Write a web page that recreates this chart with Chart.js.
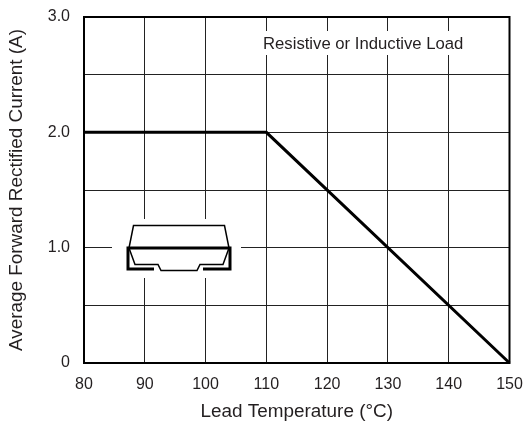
<!DOCTYPE html>
<html>
<head>
<meta charset="utf-8">
<style>
  html, body { margin: 0; padding: 0; background: #fff; }
  canvas { display: block; }
</style>
<script src="https://cdn.jsdelivr.net/npm/chart.js@4/dist/chart.umd.min.js"></script>
</head>
<body>
<canvas id="myChart" width="525" height="421"></canvas>
<script>
var temperature = [80, 110, 150];
var current = [2.0, 2.0, 0];
var yLabels = { 0: '0', 1: '1.0', 2: '2.0', 3: '3.0' };
var note = 'Resistive or Inductive Load';
var xTitle = 'Lead Temperature (°C)';
var yTitle = 'Average Forward Rectified Current (A)';

var ink = '#231f20';
var fontName = '"Liberation Sans", Arial, sans-serif';

// frame, note and the little package drawing on top of the grid
var extras = {
  id: 'extras',
  beforeDatasetsDraw: function(chart) {
    var c = chart.ctx;
    c.save();
    // white patches that cut the grid behind the note and the package
    c.fillStyle = '#fff';
    c.fillRect(262, 31, 204, 24);
    c.fillRect(112, 219, 129, 59);
    c.strokeStyle = '#000';
    c.lineJoin = 'miter';
    c.lineWidth = 1.5;
    c.beginPath();
    c.moveTo(129, 248); c.lineTo(133.5, 225.5); c.lineTo(224.5, 225.5); c.lineTo(229, 248);
    c.moveTo(129, 248); c.lineTo(135, 264.5); c.lineTo(158, 264.5); c.lineTo(161, 270.5);
    c.lineTo(197, 270.5); c.lineTo(200, 264.5); c.lineTo(223, 264.5); c.lineTo(229, 248);
    c.stroke();
    c.lineWidth = 3;
    c.beginPath();
    c.moveTo(154, 269); c.lineTo(128, 269); c.lineTo(128, 248); c.lineTo(230, 248);
    c.lineTo(230, 269); c.lineTo(203, 269);
    c.stroke();
    c.restore();
  },
  afterDatasetsDraw: function(chart) {
    var c = chart.ctx;
    var a = chart.chartArea;
    c.save();
    c.strokeStyle = '#000';
    c.lineWidth = 2;
    c.strokeRect(a.left, a.top, a.right - a.left, a.bottom - a.top);
    c.fillStyle = ink;
    c.font = '16.7px ' + fontName;
    c.textAlign = 'left';
    c.textBaseline = 'middle';
    c.fillText(note, 263, 44);
    c.restore();
  }
};

var ctx = document.getElementById('myChart').getContext('2d');
var myChart = new Chart(ctx, {
  type: 'scatter',
  data: {
    datasets: [{
      data: temperature.map(function(t, i) { return { x: t, y: current[i] }; }),
      showLine: true,
      borderColor: '#000',
      borderWidth: 3,
      pointRadius: 0,
      borderCapStyle: 'butt',
      clip: false
    }]
  },
  options: {
    responsive: false,
    animation: false,
    layout: { padding: { left: 5, right: 15.5, top: 17, bottom: -2 } },
    plugins: { legend: { display: false }, tooltip: { enabled: false } },
    scales: {
      x: {
        type: 'linear',
        min: 80,
        max: 150,
        ticks: { stepSize: 10, color: ink, font: { family: fontName, size: 16 }, padding: 12, maxRotation: 0 },
        grid: { color: '#222', lineWidth: 1, drawTicks: false },
        border: { display: false },
        title: { display: true, text: xTitle, color: ink, font: { family: fontName, size: 18.9 }, padding: { top: 9, bottom: 0 } },
        afterFit: function(s) { s.height = 60; s.paddingLeft = 0; s.paddingRight = 0; }
      },
      y: {
        min: 0,
        max: 3,
        ticks: {
          stepSize: 0.5,
          color: ink,
          font: { family: fontName, size: 16 },
          padding: 14,
          autoSkip: false,
          callback: function(v) { return yLabels[v] || ''; }
        },
        grid: { color: '#222', lineWidth: 1, drawTicks: false },
        border: { display: false },
        title: { display: true, text: yTitle, color: ink, font: { family: fontName, size: 18.9 }, padding: { top: 0, bottom: 0 } },
        afterFit: function(s) { s.width = 79; s.paddingTop = 0; s.paddingBottom = 0; }
      }
    }
  },
  plugins: [extras]
});
</script>
</body>
</html>
